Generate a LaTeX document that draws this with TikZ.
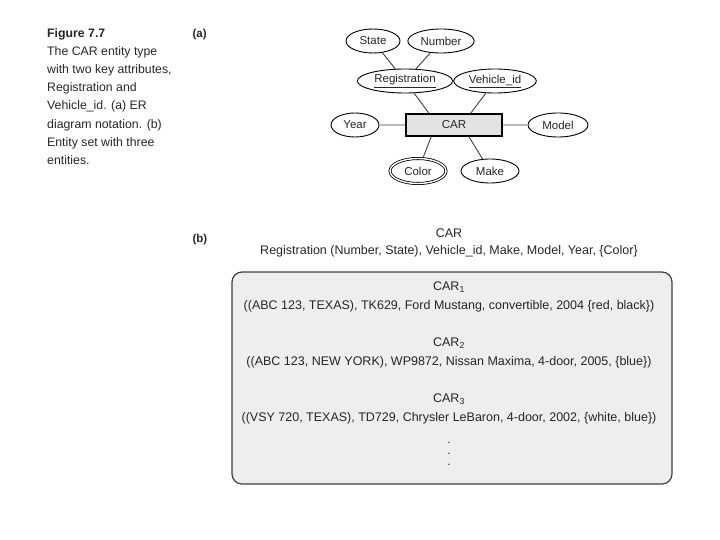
\documentclass[tikz,border=0pt]{standalone}
\usepackage{fontspec}
\setmainfont{Liberation Sans}
\usetikzlibrary{shapes.geometric}
\tikzset{attr/.style={draw,ellipse,line width=.9pt,fill=white,inner xsep=3pt,inner ysep=1pt,minimum height=24},
  multiattr/.style={attr,line width=.8pt,double,double distance=1.4pt},
  entity/.style={draw,line width=1.2pt,fill=gray!22,minimum width=96,minimum height=22},
  link/.style={draw=black!75,line width=.9pt},
  flat/.style={draw=gray!55,line width=1.8pt},
  setfont/.style={font=\fontsize{12.5}{14}\selectfont}}
\newcommand{\carentry}[4]{\node[setfont] (#1) at (449,#2){CAR\textsubscript{#3}};\node[setfont] (#1row) at (449,#2+19){#4};}

\begin{document}
\begin{tikzpicture}[x=1pt,y=-1pt,font=\fontsize{11.5}{14}\selectfont,text=black!85]
\useasboundingbox (0,0) rectangle (720,540);
% caption and panel labels
\node[anchor=north west,align=left,inner sep=0pt,font=\fontsize{12.3}{18.2}\selectfont] (caption) at (47,28)
  {\textbf{Figure 7.7}\\The CAR entity type\\with two key attributes,\\Registration and\\Vehicle\_id. (a) ER\\diagram notation. (b)\\Entity set with three\\entities.};
\node[anchor=base west,font=\bfseries\fontsize{11.5}{14}\selectfont] (pa) at (189,38){(a)};
\node[anchor=base west,font=\bfseries\fontsize{11.5}{14}\selectfont] (pb) at (189,243){(b)};
% (a) ER diagram
\node[entity] (car) at (454,125){CAR};
\node[attr,minimum width=54] (state) at (373,41){State};
\node[attr,minimum width=64] (number) at (441,41){Number};
\node[attr,minimum width=86] (reg) at (405,81){\underline{Registration}};
\node[attr,minimum width=78] (vid) at (495,81){\underline{Vehicle\_id}};
\node[attr,minimum width=48] (year) at (355,125){Year};
\node[attr,minimum width=60] (model) at (558,125){Model};
\node[multiattr,minimum width=56,minimum height=25] (color) at (418,171){Color};
\node[attr,minimum width=58] (make) at (490,171){Make};
\draw[link] (state)--(reg) (number)--(reg) (reg)--(car.155) (vid)--(car.35) (color)--(car.207) (make)--(car.322);
\draw[flat] (year)--(car) (model)--(car);
% (b) entity set
\node[setfont] (setname) at (449,233){CAR};
\node[setfont] (setattrs) at (449,251){Registration (Number, State), Vehicle\_id, Make, Model, Year, \{Color\}};
\draw[draw=black!75,line width=1.2pt,fill=gray!13,rounded corners=10pt] (232,272) rectangle (672,484);
\carentry{car1}{287}{1}{((ABC 123, TEXAS), TK629, Ford Mustang, convertible, 2004 \{red, black\})}
\carentry{car2}{343}{2}{((ABC 123, NEW YORK), WP9872, Nissan Maxima, 4-door, 2005, \{blue\})}
\carentry{car3}{399}{3}{((VSY 720, TEXAS), TD729, Chrysler LeBaron, 4-door, 2002, \{white, blue\})}
\node[align=center,font=\fontsize{12}{11}\selectfont] (dots) at (449,454){.\\.\\.};
\end{tikzpicture}
\end{document}
